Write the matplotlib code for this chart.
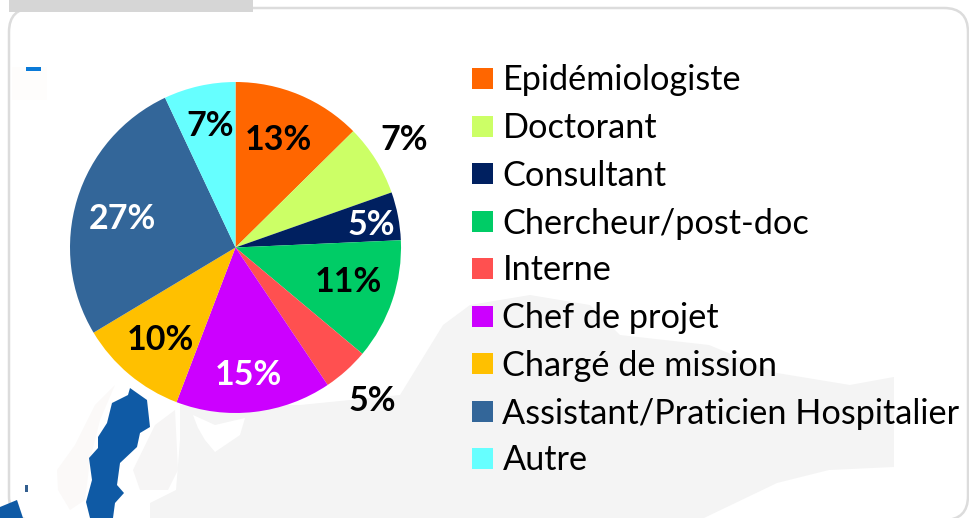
import matplotlib
matplotlib.use('Agg')
import matplotlib.pyplot as plt
from matplotlib.patches import FancyBboxPatch, Polygon, Rectangle

plt.rcParams['font.family'] = ['Lato', 'DejaVu Sans']

categories = ['Epidémiologiste', 'Doctorant', 'Consultant', 'Chercheur/post-doc', 'Interne',
              'Chef de projet', 'Chargé de mission', 'Assistant/Praticien Hospitalier', 'Autre']
values = [12.6, 7.0, 4.7, 11.8, 4.5, 15.2, 10.6, 26.6, 7.0]
# etiquettes imprimees sur le graphique
labels = ['13%', '7%', '5%', '11%', '5%', '15%', '10%', '27%', '7%']
colors = ['#FF6600', '#CCFF66', '#002060', '#00CC66', '#FF5050',
          '#CC00FF', '#FFC000', '#336699', '#66FFFF']
label_colors = ['black', 'black', 'white', 'black', 'black', 'white', 'black', 'white', 'black']

W, H = 969, 518
fig = plt.figure(figsize=(W / 100, H / 100), dpi=100)

# fond en coordonnees pixel
bg = fig.add_axes([0, 0, 1, 1])
bg.set_xlim(0, W)
bg.set_ylim(H, 0)
bg.axis('off')

card = FancyBboxPatch((29, 28), 919, 472, boxstyle='round,pad=20,rounding_size=24',
                      fc='white', ec='#dcdcdc', lw=1.8, zorder=1)
bg.add_patch(card)
bg.add_patch(Rectangle((9, 0), 244, 12, fc='#d6d6d6', ec='none', zorder=2))
bg.add_patch(Rectangle((12, 67), 35, 33, fc='#fefdfc', ec='none', zorder=1.2))
bg.add_patch(Rectangle((26, 67), 15, 4, fc='#0a7ad8', ec='none', zorder=2))

# carte en fond (approximative)
land = [(150, 518), (150, 503), (176, 490), (180, 440), (180, 405), (300, 405), (400, 395),
        (443, 325), (470, 305), (530, 295), (590, 305), (620, 335), (709, 345), (777, 373),
        (850, 385), (894, 377), (894, 467), (829, 470), (777, 483), (704, 518)]
p = Polygon(land, fc='#f4f4f4', ec='none', zorder=1.5)
bg.add_patch(p)
p.set_clip_path(card)
white_sea = [(193, 415), (215, 425), (245, 418), (240, 435), (215, 452), (205, 440), (198, 428)]
bg.add_patch(Polygon(white_sea, fc='white', ec='none', zorder=1.6))
finland = [(133, 470), (155, 425), (175, 410), (178, 470), (168, 490), (140, 490)]
bg.add_patch(Polygon(finland, fc='#f6f5f5', ec='none', zorder=1.6))
norway = [(57, 470), (75, 445), (95, 405), (115, 385), (100, 420), (90, 460), (85, 500), (70, 510), (58, 490)]
bg.add_patch(Polygon(norway, fc='#fbf9f8', ec='none', zorder=1.6))
sweden = [(130, 388), (147, 400), (150, 427), (140, 433), (137, 447), (120, 463), (117, 485),
          (124, 493), (115, 503), (113, 518), (90, 518), (86, 502), (92, 480), (89, 458),
          (98, 448), (98, 437), (107, 423), (112, 403), (128, 395)]
bg.add_patch(Polygon(sweden, fc='#0f5aa5', ec='none', zorder=2))
denmark = [(0, 507), (17, 500), (23, 518), (0, 518)]
bg.add_patch(Polygon(denmark, fc='#0f5aa5', ec='none', zorder=2))
bg.add_patch(Rectangle((25, 485), 3, 7, fc='#335f8f', ec='none', zorder=2))

# camembert
cx, cy, r = 235.5, 247.5, 165.5
ax = fig.add_axes([(cx - r) / W, 1 - (cy + r) / H, 2 * r / W, 2 * r / H])
ax.pie(values, colors=colors, startangle=90, counterclock=False, radius=1, normalize=True,
       wedgeprops={'linewidth': 0})
ax.set_xlim(-1, 1)
ax.set_ylim(-1, 1)
ax.patch.set_alpha(0)

# etiquettes
txt = fig.add_axes([0, 0, 1, 1])
txt.set_xlim(0, W)
txt.set_ylim(H, 0)
txt.axis('off')
label_pos = [(278, 140), (404, 140), (371, 225), (348, 282), (372, 401),
             (248, 375), (160, 340), (122, 219), (210, 126)]
for lab, c, (x, y) in zip(labels, label_colors, label_pos):
    txt.text(x, y, lab, ha='center', va='center', fontsize=24.5, fontweight='bold', color=c)

legend_y = [78, 126, 173, 221, 268, 316, 363, 411, 458]
for name, c, y in zip(categories, colors, legend_y):
    txt.add_patch(Rectangle((472, y - 10.5), 21, 21, fc=c, ec='none'))
    txt.text(502.5, y + 2.5, name, ha='left', va='center', fontsize=24.7, color='black')

fig.savefig('out.png', dpi=100)
